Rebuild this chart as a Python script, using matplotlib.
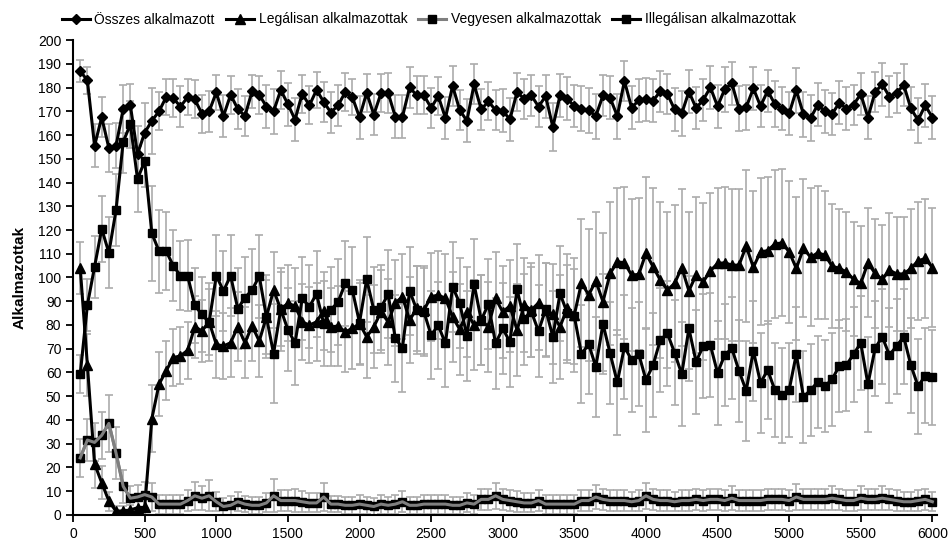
import matplotlib
matplotlib.use('Agg')
import matplotlib.pyplot as plt
import numpy as np

# betűtípus: keskenyebb sans
plt.rcParams['font.family'] = ['Liberation Sans', 'DejaVu Sans']

# idő (x tengely)
ido = list(range(50, 6001, 50))

osszes = [187, 183, 155.5, 167.5, 154.5, 155.5, 171, 172.5, 152, 161,
          166, 170, 176, 175.5, 172, 176, 175, 169, 170, 178,
          168, 177, 171, 168, 178.5, 177, 172, 170, 179, 173,
          166.5, 177.5, 172.5, 179, 174, 169.5, 172.5, 178, 176, 167.5,
          177.8, 168.6, 177.6, 177.8, 167.7, 167.7, 180.1, 176.7, 176.7, 171.5,
          176.4, 167.2, 180.7, 170.5, 166, 181.4, 170.8, 174.2, 170.5, 170.3,
          166.6, 178.1, 175.3, 176.7, 172, 176.4, 163.4, 176.7, 175.3, 172.2,
          171.1, 170.5, 168, 176.7, 175.7, 168, 182.8, 171.5, 174.7, 175,
          174.5, 178.4, 177.3, 170.8, 169.1, 178.3, 171.4, 174.8, 180.1, 172.1,
          179.3, 181.8, 171.1, 171.7, 179.7, 172.2, 178.6, 173.1, 171.1, 169.1,
          178.9, 168.7, 167.2, 172.8, 170, 168.9, 173.6, 171.1, 172.8, 177.3,
          167.4, 178.1, 181.4, 176.2, 177.8, 181.1, 171.2, 166.3, 172.5, 167.4]

legalis = [104, 63, 21.5, 13.5, 5.8, 1.5, 1.7, 2, 3, 3.2,
           40.5, 55, 60.7, 66.2, 67, 69.3, 79.2, 77.5, 81.3, 71.8,
           71.1, 72.5, 79.2, 72.5, 79.6, 73.2, 83.4, 94.7, 86.6, 89.1,
           88, 81.3, 79.9, 81.3, 86, 79.1, 79.6, 77.1, 78.5, 80.6,
           75, 79.2, 85.5, 81.3, 89.3, 91.9, 82, 87, 86.3, 91.9,
           92.6, 91.2, 83.4, 78.1, 85.5, 79.9, 82, 79.2, 91.2, 85.5,
           88, 77.8, 88.4, 86.3, 89.3, 86.3, 84.5, 79.2, 87, 84.2,
           97.8, 92.6, 98.6, 89.8, 101.7, 106.6, 106.2, 101, 101.3, 110.2,
           104.5, 98.9, 94.7, 97.5, 104.2, 94.4, 101, 98.2, 102.8, 105.9,
           106.2, 105.2, 105.2, 113.2, 104.3, 110.8, 111.3, 114.1, 114.6, 110.8,
           103.8, 112.3, 108.5, 110.4, 109.4, 104.8, 103.8, 102.4, 99.2, 97.5,
           106.2, 101.7, 99.2, 103.1, 101.5, 101.5, 103.8, 107, 108, 104.2]

vegyes = [24, 31.5, 30.5, 33.5, 38.5, 26, 12, 7, 7.5, 8.5,
          7.5, 4.5, 4.5, 4.5, 4.5, 6, 8, 7, 8, 5.5,
          3.5, 4, 5.5, 4.5, 4, 4, 5, 8, 6, 6,
          6, 5.5, 5, 5, 7.5, 4.5, 4.5, 4, 4, 4.5,
          4, 3.5, 4.5, 4, 4.5, 5.5, 4, 4, 4.5, 4.5,
          4.5, 4.5, 4, 4, 5, 4.5, 6.5, 6.5, 8, 6.5,
          6, 5.5, 5, 5, 6, 4.5, 4.5, 4.5, 4.5, 4.5,
          6, 6, 7.5, 6.5, 6, 6, 6, 5.5, 6, 8,
          6.5, 6, 6, 5.5, 6, 6, 6.5, 6, 6.5, 6.5,
          6, 7, 6, 6, 6, 6, 6.5, 6.5, 6.5, 6,
          7.5, 6.5, 6.5, 6.5, 6.5, 7, 6.5, 6, 6, 7,
          6.5, 6.5, 7, 6.5, 6, 5.5, 5.5, 6, 6.5, 5.5]

illegalis = [59.3, 88.4, 104.5, 120.5, 110.4, 128.4, 157.2, 164.5, 141.5, 149,
             118.6, 111.1, 111.1, 104.9, 100.7, 100.7, 88.2, 84.4, 81.1, 100.8,
             94.3, 100.8, 86.8, 91.5, 94.7, 100.6, 83.4, 67.9, 86.6, 78,
             72.4, 91.2, 87.7, 93.1, 80.5, 86.4, 89.6, 97.5, 94.7, 81,
             99.2, 86.3, 87.4, 92.9, 74.3, 70.4, 94.4, 86.3, 85.5, 75.7,
             79.8, 72.2, 96.1, 89.1, 75.4, 97.2, 82, 88.8, 72.2, 78.5,
             72.9, 95, 82.3, 85.5, 77.4, 86.6, 75, 93.3, 85.1, 83.7,
             67.7, 71.9, 62.4, 80.4, 68, 55.8, 70.8, 65.2, 67.7, 56.8,
             63.1, 73.6, 76.4, 68.3, 59.3, 78.5, 64.5, 71.1, 71.5, 59.8,
             67.3, 70.1, 60.6, 52.3, 69.1, 55.6, 61, 52.6, 50.4, 52.6,
             67.7, 49.7, 52.6, 56, 54.2, 57.1, 62.7, 63.1, 67.7, 72.4,
             55, 70.1, 75, 67.3, 71.1, 75, 63, 54.2, 58.5, 57.9]

# szórások (hibasávok)
osszes_err = [4.5, 5.5, 9, 8.5, 10, 9.5, 10, 9, 12, 12.5,
              14, 8, 7.5, 8, 8.5, 7.5, 8, 8, 8.5, 7.5,
              9, 8, 8.5, 8.5, 7, 8, 9, 9.5, 8, 9,
              9, 8, 8, 7.5, 8.5, 8.5, 8.5, 8, 7.5, 9,
              8, 8.5, 8, 8.5, 9, 9, 8.5, 8, 8, 8.5,
              8, 9, 8.5, 8.5, 9, 8.5, 8.5, 8, 8.5, 9,
              9, 8, 8.5, 8.5, 8.5, 9, 10, 9, 9, 9,
              9.5, 9.5, 9.5, 8.5, 9, 9.5, 8.5, 9, 9, 9,
              9, 8.5, 8.5, 9, 9.5, 9, 9, 9, 9, 9,
              9.5, 9, 9.5, 9.5, 9, 9, 9, 9.5, 9, 9,
              9.5, 9.5, 9.5, 9, 9, 9, 9, 9, 8.5, 9,
              9, 8.5, 9, 8.5, 8.5, 9, 9, 9.5, 9, 9]

legalis_err = [11, 13, 10, 7, 4, 2, 2, 2, 3, 4,
               14, 13.5, 12.5, 12, 12, 12, 13, 13, 14, 14,
               14, 14.5, 14.5, 15, 15, 15, 15.5, 16, 15.5, 16,
               16, 16, 16, 16.5, 16.5, 16.5, 17, 17, 17, 17,
               17.5, 17.5, 17.5, 18, 18, 18, 18, 18, 18.5, 18.5,
               18.5, 18.5, 19, 19, 19, 19, 19, 19, 19.5, 19.5,
               19.5, 19.5, 20, 20, 20, 20, 21, 22, 23, 24,
               27, 28, 29, 29, 30, 31, 32, 32, 32, 32,
               33, 33, 33, 33, 33, 33, 33, 33, 33, 32,
               32, 32, 32, 32, 32, 31, 31, 31, 31, 30,
               30, 29, 29, 28, 27, 26, 25, 25, 24, 24,
               23, 23, 23, 24, 24, 24, 25, 25, 25, 25]

vegyes_err = [8, 9, 8, 10, 12, 11, 7, 5, 5, 5.5,
              6, 4, 4, 4, 4, 4.5, 6, 5, 6.5, 4,
              3.5, 4, 4, 3.5, 3.5, 3.5, 4, 7, 4.5, 4.5,
              5, 4.5, 4, 4, 6, 3.5, 3.5, 3.5, 3.5, 4,
              3.5, 3.5, 4, 3.5, 4, 4.5, 3.5, 3.5, 4, 4,
              4, 4, 3.5, 3.5, 4, 4, 4.5, 4.5, 5.5, 4.5,
              4.5, 4.5, 4, 4, 4.5, 4, 4, 4, 4, 4,
              4.5, 4.5, 5, 4.5, 4.5, 4.5, 4.5, 4, 4.5, 5.5,
              4.5, 4.5, 4.5, 4, 4.5, 4.5, 4.5, 4.5, 4.5, 4.5,
              4.5, 5, 4.5, 4.5, 4.5, 4.5, 4.5, 4.5, 4.5, 4.5,
              5.5, 4.5, 4.5, 4.5, 4.5, 5, 4.5, 4.5, 4.5, 5,
              4.5, 4.5, 5, 4.5, 4.5, 4, 4, 4.5, 4.5, 4]

illegalis_err = [8, 11, 13, 14, 15, 15, 13, 10, 14, 11,
                 20, 17.5, 16.5, 15, 14.5, 15, 16, 16, 16.5, 17,
                 17, 17, 17, 17, 17.5, 17.5, 17.5, 21, 17.5, 17.5,
                 17.5, 17.5, 17.5, 18, 18, 18, 18, 18, 18, 18,
                 18, 18, 18, 18.5, 18.5, 18.5, 18.5, 18.5, 18.5, 18.5,
                 18.5, 18.5, 19, 19, 19, 19, 19, 19, 19, 19,
                 19, 19, 19, 19, 19.5, 19.5, 19.5, 20, 20, 20,
                 20.5, 21, 21, 21, 21.5, 22, 22, 22, 22, 22,
                 22, 22, 22, 22, 22, 22, 22, 22, 22, 22,
                 21.5, 21.5, 21.5, 21, 21, 21, 20.5, 20, 20, 20,
                 20, 19.5, 19.5, 19.5, 19.5, 19.5, 19.5, 19.5, 20, 20,
                 20, 20, 20, 20, 20, 20, 20, 20, 20, 20]

fig = plt.figure(figsize=(9.49, 5.5), dpi=100)
ax = fig.add_axes([0.077, 0.064, 0.910, 0.863])

hiba_szin = '#acacac'
for y, e in [(osszes, osszes_err), (legalis, legalis_err),
             (vegyes, vegyes_err), (illegalis, illegalis_err)]:
    ax.errorbar(ido, y, yerr=e, fmt='none', ecolor=hiba_szin,
                elinewidth=1.2, capsize=3, capthick=1.2, zorder=1)

h1, = ax.plot(ido, osszes, '-', color='black', lw=2.2, marker='D', ms=5.5,
              label='Összes alkalmazott', zorder=3)
h2, = ax.plot(ido, legalis, '-', color='black', lw=2.2, marker='^', ms=6.5,
              label='Legálisan alkalmazottak', zorder=3)
h4, = ax.plot(ido, illegalis, '-', color='black', lw=2.2, marker='s', ms=6,
              label='Illegálisan alkalmazottak', zorder=3)
h3, = ax.plot(ido, vegyes, '-', color='#7f7f7f', lw=2.2, marker='s', ms=6,
              mfc='black', mec='black', label='Vegyesen alkalmazottak', zorder=4)
ax.plot(ido, vegyes, '-', color='#7f7f7f', lw=2.2, zorder=5)

ax.set_xlim(0, 6030)
ax.set_ylim(0, 200)
ax.set_xticks(range(0, 6001, 500))
ax.set_yticks(range(0, 201, 10))
ax.tick_params(direction='out', length=5, width=1.3, labelsize=10)
for s in ['top', 'right']:
    ax.spines[s].set_visible(False)
for s in ['left', 'bottom']:
    ax.spines[s].set_linewidth(1.5)

ax.set_ylabel('Alkalmazottak', fontsize=11, fontweight='bold', labelpad=8)

fig.legend(handles=[h1, h2, h3, h4], loc='upper left',
           bbox_to_anchor=(0.052, 1.0), ncol=4, frameon=False,
           fontsize=10, handlelength=2.0, handletextpad=0.35,
           columnspacing=0.8)

fig.savefig('out.png', dpi=100)
